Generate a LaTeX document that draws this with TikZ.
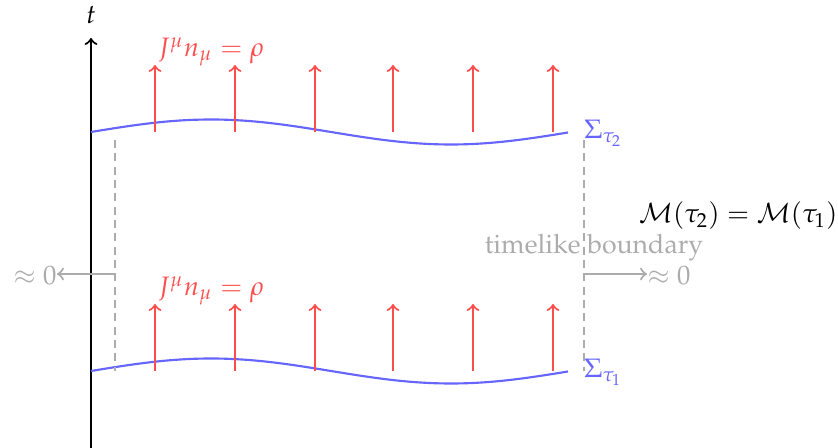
\documentclass[tikz,border=0pt]{standalone}
\usepackage[T1]{fontenc}
\usepackage{mathpazo}
\begin{document}
\begin{tikzpicture}[x=0.375pt,y=-0.375pt,
  axisline/.style={thick,black,->},
  flux/.style={thick,red!70,->},
  slice/.style={thick,blue!60},
  bnd/.style={thick,gray!65,dash pattern=on 3pt off 2pt},
  leak/.style={thick,gray!65,->},
  greytext/.style={text=gray!65,inner sep=0pt},
  bluetext/.style={text=blue!60,inner sep=1pt},
  redtext/.style={text=red!70,inner sep=1pt}]
\useasboundingbox (0,0) rectangle (838,448);
% time axis
\coordinate (axb) at (91,448);
\coordinate (axt) at (91,38);
\draw[axisline] (axb) -- (axt);
\node (tlab) at (91,15) {$t$};
% slices
\foreach \y/\n in {132/2,371/1}{
  \draw[slice] plot[domain=91:568,samples=80] (\x,{\y-12.5*sin(0.75*(\x-91))});
  \node[bluetext,anchor=west] (sig\n) at (581,\y+1) {$\Sigma_{\tau_{\n}}$};
  \foreach \xx in {155,235,315,393,473,553}{
    \coordinate (b\n\xx) at (\xx,\y);
    \coordinate (t\n\xx) at (\xx,\y-67);
    \draw[flux] (b\n\xx) -- (t\n\xx);
  }
  \node[redtext] (jlab\n) at (211,\y-80) {$J^\mu n_\mu = \rho$};
}
% timelike boundary
\coordinate (lt) at (115,140);
\coordinate (lm) at (115,274);
\coordinate (lb) at (115,371);
\coordinate (rt) at (584,140);
\coordinate (rm) at (584,274);
\coordinate (rb) at (584,371);
\draw[bnd] (lt) -- (lb);
\draw[bnd] (rt) -- (rb);
\node[greytext,anchor=east] (lz) at (57,276) {$\approx 0$};
\node[greytext,anchor=west] (rz) at (647,276) {$\approx 0$};
\draw[leak] (lm) -- (lz.east |- lm);
\draw[leak] (rm) -- (rz.west |- rm);
\node[greytext] (tb) at (594,248) {timelike boundary};
\node[anchor=east,inner sep=0pt] (mm) at (838,216) {$\mathcal{M}(\tau_2) = \mathcal{M}(\tau_1)$};
\end{tikzpicture}
\end{document}
